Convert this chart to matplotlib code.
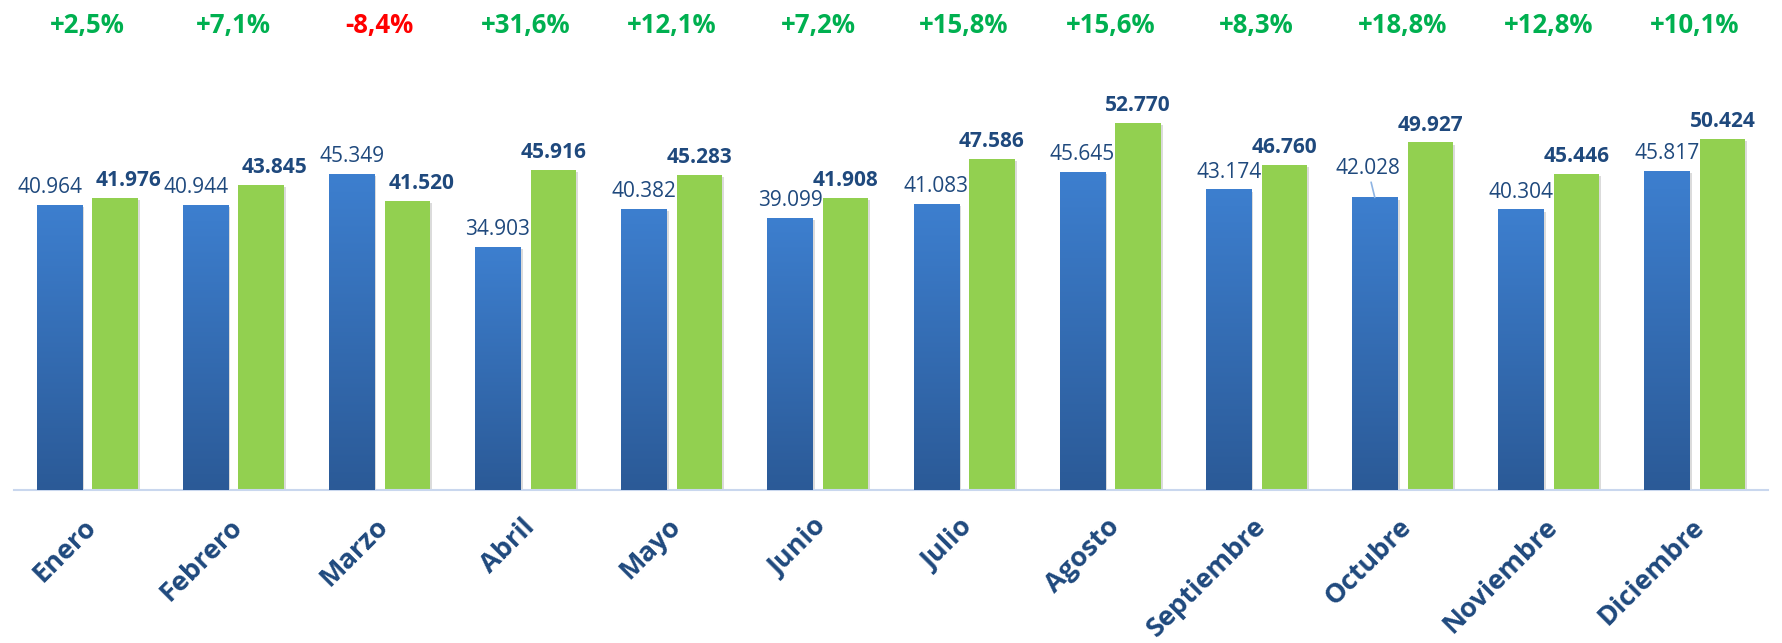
import numpy as np
import matplotlib
matplotlib.use("Agg")
import matplotlib.pyplot as plt
import matplotlib.patheffects as pe
from matplotlib.colors import LinearSegmentedColormap
from matplotlib.transforms import ScaledTranslation

# ---------------------------------------------------------------
# Data
# ---------------------------------------------------------------
months = ["Enero", "Febrero", "Marzo", "Abril", "Mayo", "Junio", "Julio",
          "Agosto", "Septiembre", "Octubre", "Noviembre", "Diciembre"]
prev_year = [40964, 40944, 45349, 34903, 40382, 39099, 41083,
             45645, 43174, 42028, 40304, 45817]
this_year = [41976, 43845, 41520, 45916, 45283, 41908, 47586,
             52770, 46760, 49927, 45446, 50424]
pct_change = [2.5, 7.1, -8.4, 31.6, 12.1, 7.2, 15.8, 15.6, 8.3, 18.8, 12.8, 10.1]

# ---------------------------------------------------------------
# Style
# ---------------------------------------------------------------
FONT = "Open Sans"
DARK_BLUE = "#1F497D"
GREEN = "#92D050"
BLUE_TOP = "#3D7FCF"
BLUE_BOT = "#2B5A97"
POS_COL = "#00B050"
NEG_COL = "#FF0000"
AXIS_COL = "#C9D7EE"

BAR_W = 0.31
OFFSET = 0.19

def fmt(v):
    return f"{v:,}".replace(",", ".")

def fmt_pct(p):
    return f"{p:+.1f}%".replace(".", ",")

DPI = 100
fig = plt.figure(figsize=(1783 / DPI, 643 / DPI), dpi=DPI)
ax = fig.add_axes([14 / 1783, 1 - 490 / 643, (1768 - 14) / 1783, 490 / 643])

x = np.arange(len(months))
shadow = [pe.SimplePatchShadow(offset=(1.5, -1.5), shadow_rgbFace="#9a9a9a", alpha=0.35), pe.Normal()]

blue_bars = ax.bar(x - OFFSET, prev_year, width=BAR_W, color=BLUE_BOT,
                   linewidth=0, zorder=2, path_effects=shadow)
green_bars = ax.bar(x + OFFSET, this_year, width=BAR_W, color=GREEN,
                    linewidth=0, zorder=2, path_effects=shadow)

# vertical gradient on the blue bars
cmap = LinearSegmentedColormap.from_list("blue_grad", [BLUE_BOT, BLUE_TOP])
grad = np.linspace(0, 1, 256).reshape(-1, 1)
for b in blue_bars:
    x0, w, h = b.get_x(), b.get_width(), b.get_height()
    im = ax.imshow(grad, cmap=cmap, origin="lower", aspect="auto",
                   extent=[x0, x0 + w, 0, h], zorder=3)
    im.set_clip_path(b)

ax.set_xlim(-0.5, 11.5)
ax.set_ylim(0, 70400)

# value labels
for i, (b, v) in enumerate(zip(blue_bars, prev_year)):
    cx = b.get_x() + b.get_width() / 2
    if months[i] == "Octubre":
        ax.annotate(fmt(v), xy=(cx, v), xytext=(-5, 13), textcoords="offset points",
                    ha="center", va="bottom", fontsize=15, family=FONT, color=DARK_BLUE,
                    arrowprops=dict(arrowstyle="-", color="#8EB4E3", lw=1.2,
                                    shrinkA=0, shrinkB=0))
    else:
        dx = -7 if i < 2 else 0
        ax.annotate(fmt(v), xy=(cx, v), xytext=(dx, 5), textcoords="offset points",
                    ha="center", va="bottom", fontsize=15, family=FONT, color=DARK_BLUE)

for i, (b, v) in enumerate(zip(green_bars, this_year)):
    cx = b.get_x() + b.get_width() / 2
    dx = 10 if i < 3 else 0
    ax.annotate(fmt(v), xy=(cx, v), xytext=(dx, 5), textcoords="offset points",
                ha="center", va="bottom", fontsize=15, family=FONT,
                fontweight="bold", color=DARK_BLUE)

# percentage change row at the top
for i, p in enumerate(pct_change):
    ax.text(x[i], 1 - 25 / 490, fmt_pct(p), transform=ax.get_xaxis_transform(),
            ha="center", va="center", fontsize=18.5, family=FONT, fontweight="bold",
            color=POS_COL if p >= 0 else NEG_COL)

# axes
for s in ("top", "right", "left"):
    ax.spines[s].set_visible(False)
ax.spines["bottom"].set_color(AXIS_COL)
ax.spines["bottom"].set_linewidth(1.5)
ax.set_yticks([])
ax.set_xticks(x)
ax.set_xticklabels(months, fontsize=19.5, family=FONT, fontweight="bold", color=DARK_BLUE)
ax.tick_params(axis="x", length=0, pad=17)
shift = ScaledTranslation(-4 / DPI, 0, fig.dpi_scale_trans)
for lbl in ax.get_xticklabels():
    lbl.set_rotation(45)
    lbl.set_ha("right")
    lbl.set_va("top")
    lbl.set_rotation_mode("anchor")
    lbl.set_transform(lbl.get_transform() + shift)

fig.savefig("out.png", dpi=DPI, facecolor="white")
